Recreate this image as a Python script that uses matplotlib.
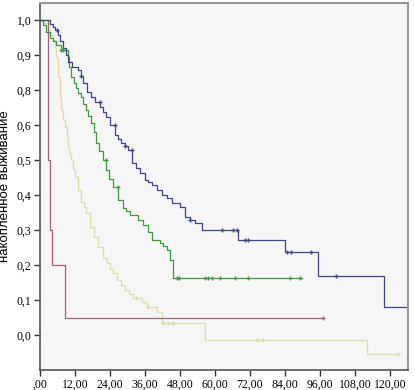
import numpy as np
import matplotlib
matplotlib.use("Agg")
import matplotlib.pyplot as plt

# months / cumulative survival
blue_t = [0, 3.43, 4.3, 5.14, 6.17, 7.0, 7.89, 8.8, 9.6, 10.97, 13.03, 14.0, 14.74, 16.0,
          17.49, 19.0, 20.57, 21.6, 22.63, 24.0, 25.71, 26.8, 27.77, 29.0, 30.17, 31.54,
          33.0, 34.29, 36.0, 37.2, 38.4, 40.11, 41.8, 43.54, 45.26, 48.0, 49.71, 51.5,
          53.14, 55.54, 67.89, 84.0, 95.3, 117.9]
blue_s = [1.0, 0.989, 0.98, 0.971, 0.957, 0.94, 0.92, 0.9, 0.88, 0.866, 0.857, 0.84, 0.82,
          0.79, 0.76, 0.73, 0.703, 0.675, 0.646, 0.6, 0.571, 0.56, 0.549, 0.54, 0.529, 0.491,
          0.477, 0.463, 0.443, 0.436, 0.429, 0.414, 0.40, 0.391, 0.377, 0.366, 0.337, 0.328,
          0.32, 0.30, 0.271, 0.237, 0.169, 0.08]
blue_end = 126.2
blue_cens = [6, 14, 20.5, 25.7, 29, 31.5, 51.5, 62.4, 66.2, 67.5, 70.3, 71.3, 84.7, 86,
             92.9, 101.5]

green_t = [0, 1.03, 2.2, 3.43, 4.4, 5.49, 7.2, 9.6, 10.1, 10.6, 11.5, 12.3, 13.2, 14.06,
           14.9, 15.77, 16.6, 17.49, 18.4, 19.2, 20.4, 21.6, 22.63, 23.8, 25.03, 26.74,
           28.46, 29.6, 30.86, 33.6, 35.3, 37.03, 38.4, 41.1, 42.3, 43.5, 44.6, 45.6]
green_s = [1.0, 0.986, 0.967, 0.949, 0.94, 0.929, 0.914, 0.894, 0.865, 0.837, 0.82, 0.806,
           0.783, 0.76, 0.72, 0.686, 0.65, 0.611, 0.58, 0.549, 0.525, 0.50, 0.471, 0.447,
           0.423, 0.386, 0.363, 0.353, 0.343, 0.329, 0.314, 0.294, 0.271, 0.263, 0.253,
           0.243, 0.214, 0.163]
green_end = 89.8
green_cens = [7.2, 8, 22.6, 26.7, 47, 47.6, 56.6, 57.6, 59, 61.7, 66.9, 71.3, 85.7, 89.1]

yellow_t = [0, 1.03, 2.74, 3.6, 4.46, 5.0, 5.49, 6.17, 6.86, 7.2, 7.89, 8.57, 9.1, 9.6,
            10.1, 10.63, 11.3, 12.0, 13.03, 14.06, 15.0, 15.77, 17.14, 18.5, 19.89, 21.6,
            22.97, 24.0, 25.03, 26.4, 27.8, 29.14, 30.5, 31.89, 34.97, 36.69, 40.11, 41.83,
            56.57, 112.1]
yellow_s = [1.0, 0.991, 0.971, 0.957, 0.943, 0.92, 0.894, 0.837, 0.76, 0.686, 0.629, 0.594,
            0.565, 0.537, 0.52, 0.50, 0.475, 0.451, 0.414, 0.38, 0.365, 0.349, 0.309, 0.28,
            0.251, 0.22, 0.206, 0.19, 0.177, 0.157, 0.143, 0.129, 0.117, 0.106, 0.094, 0.08,
            0.066, 0.034, -0.014, -0.054]
yellow_end = 122.7
yellow_cens = [33, 37, 42.2, 43.9, 45.6, 74.4, 76.5, 122.7]

mauve_t = [0, 2.74, 3.43, 4.11, 8.57]
mauve_s = [1.0, 0.5, 0.3, 0.2, 0.05]
mauve_end = 97
mauve_cens = [97]

x_ticks = [0, 12, 24, 36, 48, 60, 72, 84, 96, 108, 120]
x_labels = [",00", "12,00", "24,00", "36,00", "48,00", "60,00", "72,00", "84,00", "96,00",
            "108,00", "120,00"]
# the scan labels the y axis with "0,7" missing
y_ticks = [0.0, 0.1, 0.2, 0.3, 0.4, 0.5, 0.6, 0.8, 0.9, 1.0]
y_labels = ["0,0", "0,1", "0,2", "0,3", "0,4", "0,5", "0,6", "0,8", "0,9", "1,0"]

curves = [
    (yellow_t, yellow_s, yellow_end, yellow_cens, "#dedca8"),
    (mauve_t, mauve_s, mauve_end, mauve_cens, "#a0607c"),
    (green_t, green_s, green_end, green_cens, "#3f9a3f"),
    (blue_t, blue_s, blue_end, blue_cens, "#3d4585"),
]

# equal spacing between the printed labels
lab = [-1.0, 0.0, 0.6, 0.8, 2.0]
pos = [-10.0, 0.0, 6.0, 7.0, 19.0]


def fwd(v):
    return np.interp(v, lab, pos)


def inv(p):
    return np.interp(p, pos, lab)


fig = plt.figure(figsize=(4.15, 3.9), dpi=100)
ax = fig.add_axes([40 / 415, 1 - 370 / 390, 368 / 415, 367 / 390])
ax.set_facecolor("#f6f6f6")
ax.set_yscale("function", functions=(fwd, inv))

for t, s, end, cens, col in curves:
    tt = list(t) + [end]
    ss = list(s) + [s[-1]]
    ax.step(tt, ss, where="post", color=col, lw=0.9)
    idx = np.searchsorted(tt, cens, side="right") - 1
    ax.plot(cens, np.array(ss)[idx], linestyle="none", marker="+", ms=3, mew=1,
            color=col)

ax.set_xlim(0, 126.2)
ax.set_ylim(-0.1, 1.0486)
ax.set_xticks(x_ticks)
ax.set_xticklabels(x_labels, fontsize=8.5, family="Liberation Serif")
ax.set_yticks(y_ticks)
ax.set_yticklabels(y_labels, fontsize=8.5, family="Liberation Serif")
ax.yaxis.set_minor_locator(matplotlib.ticker.NullLocator())
ax.tick_params(axis="both", direction="out", length=4, width=1, color="#333333", pad=2)
ax.set_ylabel("накопленное выживание", fontsize=9.5, family="Liberation Sans", labelpad=4)

for side in ["left", "bottom"]:
    ax.spines[side].set_color("#555555")
    ax.spines[side].set_linewidth(1.2)
for side in ["top", "right"]:
    ax.spines[side].set_color("#999999")
    ax.spines[side].set_linewidth(1.5)

fig.savefig("out.png", dpi=100)
